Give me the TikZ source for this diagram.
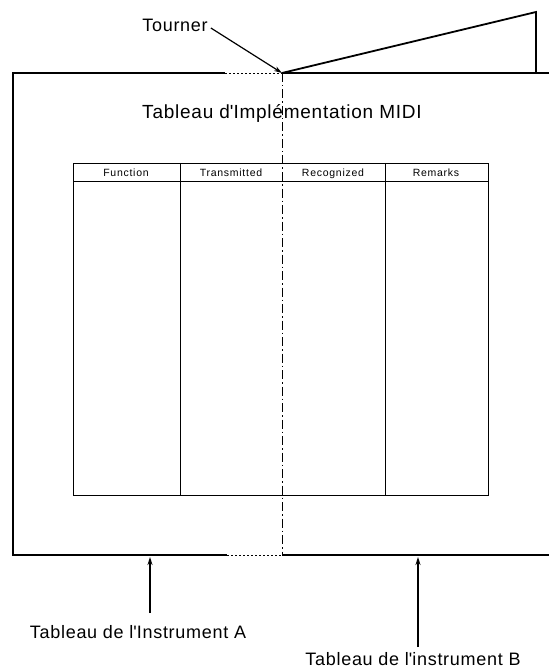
\documentclass[tikz,border=0pt]{standalone}
\usepackage{fontspec}
\setmainfont{Liberation Sans}
\newfontfamily\wide[LetterSpace=4]{Liberation Sans}
\newfontfamily\wider[LetterSpace=7]{Liberation Sans}
\usetikzlibrary{arrows.meta}
\newcommand{\q}{\textquotesingle}
\begin{document}
\begin{tikzpicture}[x=1pt,y=-1pt,
  frame/.style={line width=1.1pt},
  dotseg/.style={line width=0.9pt,dash pattern=on 1.5pt off 2.5pt},
  foldline/.style={line width=0.9pt,dash pattern=on 9pt off 3pt on 1.5pt off 3pt},
  flap/.style={line width=1.8pt,line join=miter},
  grid/.style={line width=0.9pt},
  pointer/.style={line width=1.2pt,-{Stealth[length=8pt,width=5pt]}},
  label/.style={font=\wide\fontsize{18}{20}\selectfont,inner sep=0pt},
  head/.style={font=\wider\fontsize{10.5}{12}\selectfont,inner sep=0pt,anchor=base}]
\useasboundingbox (0,0) rectangle (549,671);

% key points of the folded sheet
\coordinate (tl) at (13,73);
\coordinate (bl) at (13,555);
\coordinate (fold) at (282,73);
\coordinate (foldb) at (282,555);
\coordinate (peak) at (536,12);
\coordinate (peakb) at (536,73);

% outer sheet: solid edges with a short hidden stretch near the fold
\draw[frame] (225,73) -- (tl) -- (bl) -- (227,555);
\draw[dotseg] (225,73) -- (fold);
\draw[dotseg] (227,555) -- (foldb);
\draw[frame] (fold) -- (549,73);
\draw[frame] (foldb) -- (549,555);

% the page lifted along the fold
\draw[flap] (fold) -- (peak) -- (peakb);

% fold line
\draw[foldline] (fold) -- (foldb);

% title
\node[label,font=\wide\fontsize{19}{21}\selectfont] (title) at (282,113) {Tableau d\q Implémentation MIDI};

% implementation chart
\draw[grid] (73,163) rectangle (488,495);
\draw[grid] (73,181) -- (488,181);
\draw[grid] (180,163) -- (180,495);
\draw[grid] (385,163) -- (385,495);
\node[head] (hf) at (126,176) {Function};
\node[head] (ht) at (231,176) {Transmitted};
\node[head] (hr) at (333,176) {Recognized};
\node[head] (hm) at (436,176) {Remarks};

% labels and pointers
\node[label] (tourner) at (175,25) {Tourner};
\draw[pointer] (tourner.east) ++(3,3) -- (fold);

\node[label] (instA) at (138,632) {Tableau de l\q Instrument A};
\coordinate (edgeA) at (150,557);
\draw[pointer] (150,613) -- (edgeA);

\node[label] (instB) at (413,659) {Tableau de l\q instrument B};
\coordinate (edgeB) at (418,557);
\draw[pointer] (418,647) -- (edgeB);
\end{tikzpicture}
\end{document}
